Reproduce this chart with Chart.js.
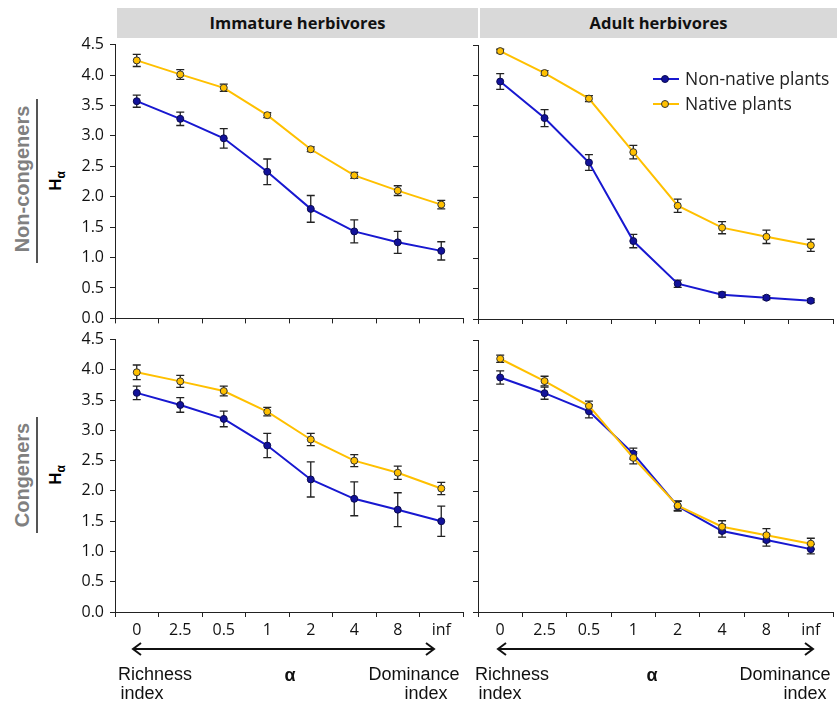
<!DOCTYPE html>
<html>
<head>
<meta charset="utf-8">
<script src="https://cdn.jsdelivr.net/npm/chart.js@4.4.1/dist/chart.umd.min.js"></script>
<style>
  body { margin: 0; background: #fff; }
  #wrap { position: relative; width: 837px; height: 704px; overflow: hidden; font-family: "Liberation Sans", Arial, sans-serif; }
  canvas { position: absolute; }
  .hdr { position: absolute; background: #d9d9d9; font-family: "Open Sans", sans-serif; font-weight: bold; font-size: 16.5px; color: #111; text-align: center; line-height: 30px; }
  .rot { position: absolute; transform: translate(-50%, -50%) rotate(-90deg); white-space: nowrap; }
  .row { font-weight: bold; font-size: 20px; color: #808080; }
  .ha { font-family: "Liberation Sans", Arial, sans-serif; font-weight: bold; font-size: 17px; color: #000; }
  .ha sub { font-size: 12px; }
  .vline { position: absolute; width: 1.5px; background: #555; }
  .txt { position: absolute; font-size: 18px; color: #111; white-space: nowrap; transform: translate(-50%, -50%); }
  .leg { position: absolute; font-family: "Open Sans", sans-serif; font-size: 17.5px; color: #222; white-space: nowrap; }
  .legline { position: absolute; height: 2px; width: 26px; }
  .legdot { position: absolute; width: 6px; height: 6px; border-radius: 50%; border: 1px solid #333; }
</style>
</head>
<body>
<div id="wrap">
  <div class="hdr" style="left:117px;top:8px;width:361px;height:30px;">Immature herbivores</div>
  <div class="hdr" style="left:480px;top:8px;width:357px;height:30px;">Adult herbivores</div>

  <div class="rot row" style="left:22px;top:179px;">Non-congeners</div>
  <div class="vline" style="left:36px;top:99px;height:164px;"></div>
  <div class="rot ha" style="left:57px;top:181px;">H<sub>α</sub></div>

  <div class="rot row" style="left:22px;top:475px;">Congeners</div>
  <div class="vline" style="left:36px;top:417px;height:116px;"></div>
  <div class="rot ha" style="left:57px;top:475px;">H<sub>α</sub></div>

  <canvas id="c1"></canvas>
  <canvas id="c2"></canvas>
  <canvas id="c3"></canvas>
  <canvas id="c4"></canvas>

  <div class="legline" style="left:653px;top:78px;background:#1818d0;"></div>
  <div class="legdot" style="left:661px;top:75px;background:#12129a;border-color:#0a0a50;"></div>
  <div class="leg" style="left:685px;top:66px;">Non-native plants</div>
  <div class="legline" style="left:653px;top:103px;background:#ffc000;"></div>
  <div class="legdot" style="left:661px;top:100px;background:#ffc000;"></div>
  <div class="leg" style="left:685px;top:91px;">Native plants</div>

  <svg style="position:absolute;left:0;top:0;" width="837" height="704">
    <g stroke="#111" stroke-width="2" fill="none">
      <line x1="133" y1="649" x2="434" y2="649"/>
      <polyline points="141,643 133,649 141,655"/>
      <polyline points="426,643 434,649 426,655"/>
      <line x1="498" y1="649" x2="813" y2="649"/>
      <polyline points="506,643 498,649 506,655"/>
      <polyline points="805,643 813,649 805,655"/>
    </g>
  </svg>

  <div class="txt" style="left:155px;top:674px;">Richness</div>
  <div class="txt" style="left:142px;top:693px;">index</div>
  <div class="txt" style="left:290px;top:675px;font-weight:bold;">α</div>
  <div class="txt" style="left:414px;top:674px;">Dominance</div>
  <div class="txt" style="left:426px;top:693px;">index</div>

  <div class="txt" style="left:512px;top:674px;">Richness</div>
  <div class="txt" style="left:500px;top:693px;">index</div>
  <div class="txt" style="left:652px;top:675px;font-weight:bold;">α</div>
  <div class="txt" style="left:785px;top:674px;">Dominance</div>
  <div class="txt" style="left:805px;top:693px;">index</div>
</div>

<script>
// alpha values on the x axis
var alphaLabels = ["0", "2.5", "0.5", "1", "2", "4", "8", "inf"];
var yMin = 0, yMax = 4.5, yStep = 0.5;

// Immature herbivores, non-congeners
var immNonCongNonNative = [3.57, 3.28, 2.96, 2.41, 1.80, 1.43, 1.25, 1.11];
var immNonCongNonNativeErr = [0.10, 0.11, 0.16, 0.21, 0.22, 0.19, 0.18, 0.15];
var immNonCongNative = [4.24, 4.01, 3.79, 3.34, 2.78, 2.35, 2.10, 1.87];
var immNonCongNativeErr = [0.10, 0.08, 0.06, 0.04, 0.04, 0.05, 0.08, 0.07];

// Adult herbivores, non-congeners
var adNonCongNonNative = [3.90, 3.30, 2.57, 1.28, 0.58, 0.40, 0.35, 0.30];
var adNonCongNonNativeErr = [0.13, 0.14, 0.13, 0.11, 0.06, 0.04, 0.03, 0.03];
var adNonCongNative = [4.40, 4.04, 3.62, 2.74, 1.86, 1.50, 1.35, 1.21];
var adNonCongNativeErr = [0.03, 0.04, 0.05, 0.11, 0.11, 0.10, 0.11, 0.10];

// Immature herbivores, congeners
var immCongNonNative = [3.62, 3.42, 3.19, 2.75, 2.19, 1.87, 1.69, 1.50];
var immCongNonNativeErr = [0.11, 0.12, 0.13, 0.20, 0.29, 0.28, 0.28, 0.25];
var immCongNative = [3.96, 3.81, 3.65, 3.31, 2.85, 2.50, 2.30, 2.04];
var immCongNativeErr = [0.12, 0.10, 0.08, 0.07, 0.10, 0.10, 0.11, 0.10];

// Adult herbivores, congeners
var adCongNonNative = [3.88, 3.62, 3.32, 2.62, 1.75, 1.34, 1.19, 1.04];
var adCongNonNativeErr = [0.11, 0.10, 0.11, 0.09, 0.08, 0.10, 0.10, 0.08];
var adCongNative = [4.19, 3.82, 3.41, 2.55, 1.76, 1.41, 1.27, 1.13];
var adCongNativeErr = [0.06, 0.08, 0.08, 0.10, 0.08, 0.10, 0.11, 0.09];

var BLUE = "#1818d0";
var BLUE_DOT = "#12129a";
var GOLD = "#ffc000";
var AXIS = "#222";

// error bars drawn under the lines and markers
var errorBarPlugin = {
    id: "errorBars",
    beforeDatasetsDraw: function (chart) {
        var ctx = chart.ctx;
        var yScale = chart.scales.y;
        ctx.save();
        ctx.strokeStyle = "#222";
        ctx.lineWidth = 1.3;
        chart.data.datasets.forEach(function (ds, i) {
            var meta = chart.getDatasetMeta(i);
            ds.errors.forEach(function (e, j) {
                var x = meta.data[j].x;
                var top = yScale.getPixelForValue(ds.data[j] + e);
                var bot = yScale.getPixelForValue(ds.data[j] - e);
                ctx.beginPath();
                ctx.moveTo(x, top); ctx.lineTo(x, bot);
                ctx.moveTo(x - 4, top); ctx.lineTo(x + 4, top);
                ctx.moveTo(x - 4, bot); ctx.lineTo(x + 4, bot);
                ctx.stroke();
            });
        });
        ctx.restore();
    }
};

function buildChart(cv, w, h, cfg) {
    cv.width = w; cv.height = h;
    cv.style.width = w + "px"; cv.style.height = h + "px";
    return new Chart(cv, cfg);
}

function makePanel(id, plot, showY, showX, nonNative, nonNativeErr, native, nativeErr) {
    var axisW = showY ? 50 : 6;
    var axisH = showX ? 32 : 7;
    var padT = 14, padR = 6;
    var cv = document.getElementById(id);
    var w = (plot.right - plot.left) + axisW + padR;
    var h = (plot.bottom - plot.top) + padT + axisH;

    var cfg = {
        type: "line",
        data: {
            labels: alphaLabels,
            datasets: [
                {
                    label: "Native plants",
                    data: native,
                    errors: nativeErr,
                    borderColor: GOLD,
                    backgroundColor: GOLD,
                    borderWidth: 2,
                    pointRadius: 3.5,
                    pointBorderColor: "#333",
                    pointBorderWidth: 1,
                    pointBackgroundColor: GOLD,
                    tension: 0,
                },
                {
                    label: "Non-native plants",
                    data: nonNative,
                    errors: nonNativeErr,
                    borderColor: BLUE,
                    backgroundColor: BLUE,
                    borderWidth: 2,
                    pointRadius: 3.5,
                    pointBorderColor: "#0a0a50",
                    pointBorderWidth: 1,
                    pointBackgroundColor: BLUE_DOT,
                    tension: 0,
                },
            ],
        },
        options: {
            responsive: false,
            maintainAspectRatio: false,
            animation: false,
            devicePixelRatio: 1,
            layout: { padding: { top: padT, right: padR, left: 0, bottom: 0 } },
            plugins: { legend: { display: false }, tooltip: { enabled: false } },
            scales: {
                x: {
                    type: "category",
                    offset: true,
                    grid: { offset: true, drawOnChartArea: false, drawTicks: true, tickLength: 5, color: AXIS },
                    border: { display: true, color: AXIS, width: 1 },
                    ticks: {
                        display: showX,
                        color: "#111",
                        padding: 4,
                        maxRotation: 0,
                        font: { family: "'Open Sans', sans-serif", size: 16 },
                    },
                    afterFit: function (scale) { scale.height = axisH; },
                },
                y: {
                    min: yMin,
                    max: yMax,
                    grid: { drawOnChartArea: false, drawTicks: true, tickLength: 5, color: AXIS },
                    border: { display: true, color: AXIS, width: 1 },
                    ticks: {
                        display: showY,
                        stepSize: yStep,
                        color: "#111",
                        padding: 6,
                        font: { family: "'Open Sans', sans-serif", size: 16 },
                        callback: function (v) { return Number(v).toFixed(1); },
                    },
                    afterFit: function (scale) { scale.width = axisW; },
                },
            },
        },
        plugins: [errorBarPlugin],
    };

    // first pass: measure where the plot area lands, then correct the canvas size
    var chart = buildChart(cv, w, h, cfg);
    var ca = chart.chartArea;
    var dw = Math.round((plot.right - plot.left) - (ca.right - ca.left));
    var dh = Math.round((plot.bottom - plot.top) - (ca.bottom - ca.top));
    if (dw !== 0 || dh !== 0) {
        chart.destroy();
        chart = buildChart(cv, w + dw, h + dh, cfg);
        ca = chart.chartArea;
    }
    cv.style.left = (plot.left - Math.round(ca.left)) + "px";
    cv.style.top = (plot.top - Math.round(ca.top)) + "px";
    return chart;
}

makePanel("c1", { left: 115, right: 463, top: 45, bottom: 319 }, true, false,
    immNonCongNonNative, immNonCongNonNativeErr, immNonCongNative, immNonCongNativeErr);
makePanel("c2", { left: 478, right: 833, top: 45, bottom: 319 }, false, false,
    adNonCongNonNative, adNonCongNonNativeErr, adNonCongNative, adNonCongNativeErr);
makePanel("c3", { left: 115, right: 463, top: 340, bottom: 612 }, true, true,
    immCongNonNative, immCongNonNativeErr, immCongNative, immCongNativeErr);
makePanel("c4", { left: 478, right: 833, top: 340, bottom: 612 }, false, true,
    adCongNonNative, adCongNonNativeErr, adCongNative, adCongNativeErr);
</script>
</body>
</html>
